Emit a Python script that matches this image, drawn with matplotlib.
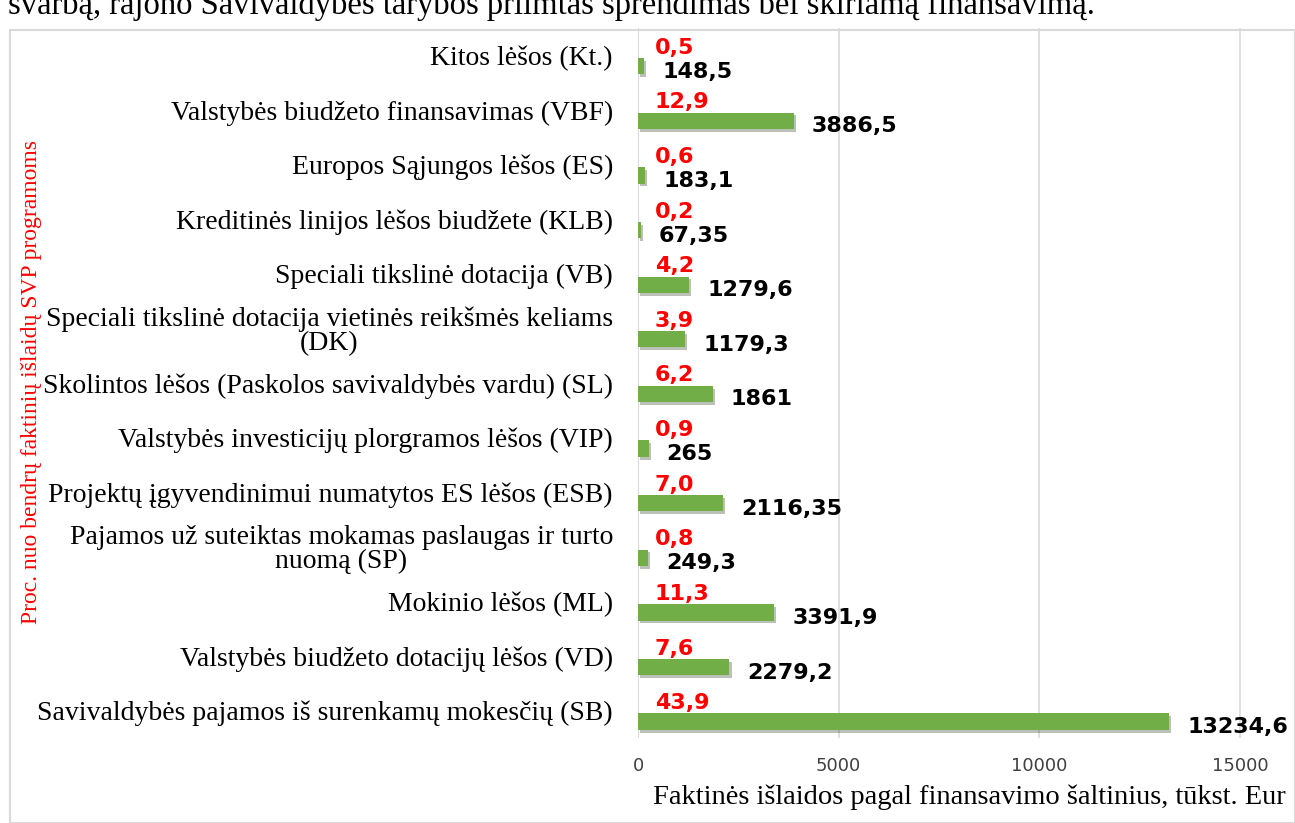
import matplotlib
matplotlib.use("Agg")
import matplotlib.pyplot as plt
import matplotlib.patheffects as pe
from matplotlib.patches import Rectangle
import numpy as np

# Data (top to bottom as drawn)
categories = [
    "Kitos lėšos (Kt.)",
    "Valstybės biudžeto finansavimas (VBF)",
    "Europos Sąjungos lėšos (ES)",
    "Kreditinės linijos lėšos biudžete (KLB)",
    "Speciali tikslinė dotacija (VB)",
    "Speciali tikslinė dotacija vietinės reikšmės keliams\n(DK)",
    "Skolintos lėšos (Paskolos savivaldybės vardu) (SL)",
    "Valstybės investicijų plorgramos lėšos (VIP)",
    "Projektų įgyvendinimui numatytos ES lėšos (ESB)",
    "Pajamos už suteiktas mokamas paslaugas ir turto\nnuomą (SP)",
    "Mokinio lėšos (ML)",
    "Valstybės biudžeto dotacijų lėšos (VD)",
    "Savivaldybės pajamos iš surenkamų mokesčių (SB)",
]
values = [148.5, 3886.5, 183.1, 67.35, 1279.6, 1179.3, 1861, 265,
          2116.35, 249.3, 3391.9, 2279.2, 13234.6]
value_labels = ["148,5", "3886,5", "183,1", "67,35", "1279,6", "1179,3", "1861",
                "265", "2116,35", "249,3", "3391,9", "2279,2", "13234,6"]
pct_labels = ["0,5", "12,9", "0,6", "0,2", "4,2", "3,9", "6,2", "0,9",
              "7,0", "0,8", "11,3", "7,6", "43,9"]
xticks = [0, 5000, 10000, 15000]

GREEN = "#72AE48"
SERIF = "Liberation Serif"
SANS = "DejaVu Sans"

fig = plt.figure(figsize=(12.95, 8.23), dpi=100)

# line of document text above the chart (cut by the page edge, as in the source)
fig.text(8 / 1295, 1 - 14 / 823,
         "svarbą, rajono Savivaldybės tarybos priimtas sprendimas bei skiriamą finansavimą.",
         family=SERIF, fontsize=23.5, va="baseline", ha="left")

# chart frame
fig.patches.append(Rectangle((10 / 1295, 0), 1 - 10 / 1295, 1 - 30 / 823,
                             transform=fig.transFigure, fill=True,
                             facecolor="white", edgecolor="#D9D9D9", lw=1.5,
                             zorder=-5))

ax = fig.add_axes([638 / 1295, 1 - 738 / 823, (1280 - 638) / 1295, (738 - 28) / 823])
ax.set_facecolor("none")

n = len(categories)
pos = np.arange(n)
bar_off = 0.2
ax.barh(pos + bar_off, values, height=0.3, color=GREEN, zorder=3,
        path_effects=[pe.SimplePatchShadow(offset=(1.5, -2), alpha=0.3),
                      pe.Normal()])

for i in range(n):
    ax.annotate(value_labels[i], (values[i], pos[i] + bar_off),
                xytext=(13, -4), textcoords="offset points", ha="left",
                va="center", fontsize=16, fontweight="bold", family=SANS,
                color="black", zorder=4)
    ax.annotate(pct_labels[i], (0, pos[i] + bar_off),
                xytext=(12, 9), textcoords="offset points", ha="left",
                va="baseline", fontsize=16, fontweight="bold", family=SANS,
                color="red", zorder=4)

ax.set_ylim(n - 0.5, -0.5)
ax.set_xlim(0, 16000)
ax.set_yticks(pos)
ax.set_yticklabels(categories, family=SERIF, fontsize=20,
                   multialignment="center", linespacing=0.95)
ax.set_xticks(xticks)
ax.set_xticklabels([str(t) for t in xticks], family=SANS, fontsize=13,
                   color="#404040")
ax.tick_params(length=0, axis="both")
ax.tick_params(axis="y", pad=18)
ax.tick_params(axis="x", pad=14)
ax.grid(axis="x", color="#D9D9D9", lw=1.2, zorder=0)
for s in ax.spines.values():
    s.set_visible(False)
ax.axvline(0, color="#D9D9D9", lw=1.2, zorder=1)

ax.set_xlabel("Faktinės išlaidos pagal finansavimo šaltinius, tūkst. Eur",
              family=SERIF, fontsize=20.5)
ax.xaxis.set_label_coords(0.516, -0.066)

fig.text(32 / 1295, 1 - 382 / 823,
         "Proc. nuo bendrų faktinių išlaidų SVP programoms",
         family=SERIF, fontsize=17, color="red", rotation=90,
         ha="center", va="center")

fig.savefig("out.png", dpi=100)
